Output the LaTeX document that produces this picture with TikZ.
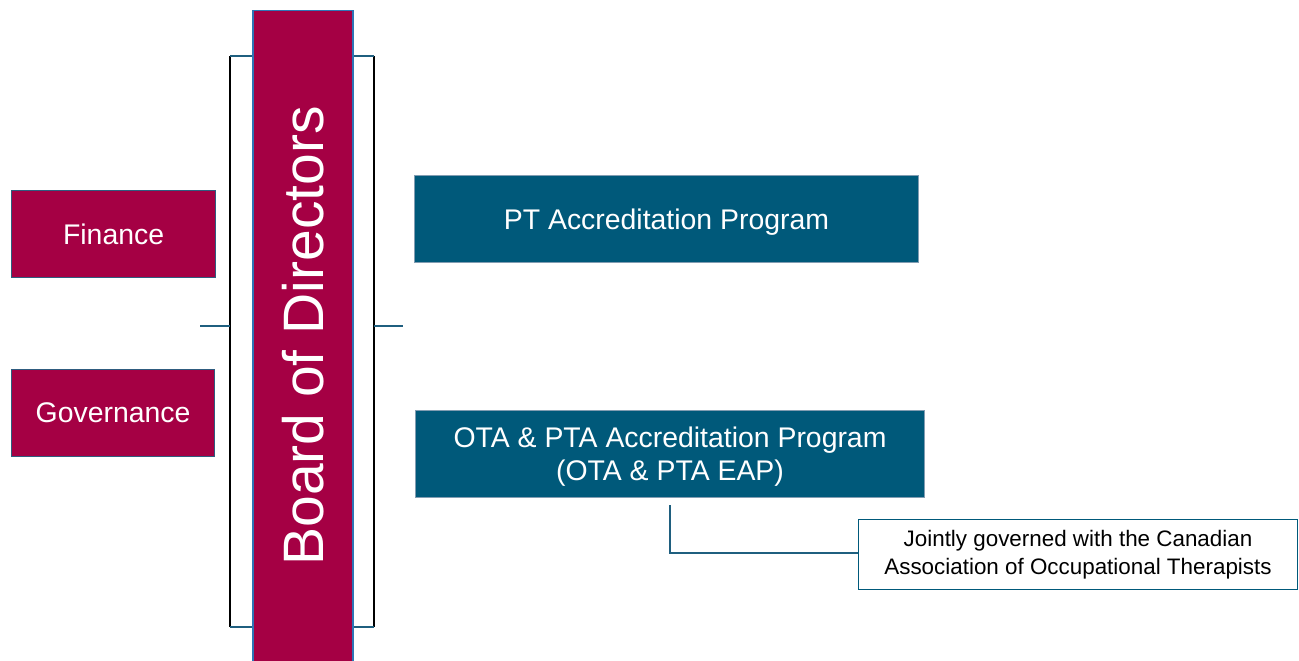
\documentclass[tikz,border=0pt]{standalone}
\usepackage{fontspec}
\setmainfont{Liberation Sans}
\definecolor{crim}{RGB}{165,0,68}
\definecolor{teal1}{RGB}{0,89,122}
\definecolor{edgeblue}{RGB}{46,117,182}
\definecolor{edgegray}{RGB}{47,92,127}
\definecolor{tickc}{RGB}{31,95,127}
\begin{document}
\begin{tikzpicture}[x=1pt,y=-1pt,
  committee/.style={draw=edgegray,line width=1.2pt,fill=crim,text=white,minimum width=204pt,minimum height=87pt,anchor=north west,inner sep=0pt,font=\fontsize{28.4}{33}\selectfont},
  program/.style={draw=edgegray!60,line width=1pt,fill=teal1,text=white,minimum height=87pt,anchor=north west,inner sep=0pt,align=center,text depth=0pt,font=\fontsize{28.4}{33}\selectfont},
  note/.style={draw=teal1,line width=1pt,fill=white,text=black,anchor=north west,minimum width=439pt,minimum height=70pt,inner sep=0pt,align=center,font=\fontsize{22.4}{28}\selectfont},
  brk/.style={line width=1.5pt,black},
  tick/.style={line width=1.5pt,tickc}]
\useasboundingbox (0,0) rectangle (1299,661);
% board
\node[draw=edgeblue,line width=1.5pt,fill=crim,minimum width=100pt,minimum height=660pt,anchor=north west,inner sep=0pt] (board) at (252,10) {};
\node[rotate=90,text=white,font=\fontsize{57}{60}\selectfont,inner sep=0pt] (boardtext) at (303,336) {Board of Directors};
% brackets
\coordinate (lt) at (230,56);
\coordinate (lb) at (230,627);
\coordinate (rt) at (374,56);
\coordinate (rb) at (374,627);
\draw[brk] (lt) -- (lb);
\draw[brk] (rt) -- (rb);
\draw[tick] (lt) -- (board.west |- lt);
\draw[tick] (lb) -- (board.west |- lb);
\draw[tick] (rt) -- (board.east |- rt);
\draw[tick] (rb) -- (board.east |- rb);
\coordinate (lm) at (230,326);
\coordinate (lmend) at (200,326);
\coordinate (rm) at (374,326);
\coordinate (rmend) at (403,326);
\draw[tick] (lmend) -- (lm);
\draw[tick] (rm) -- (rmend);
% committees
\node[committee] (fin) at (11,190) {Finance};
\node[committee,minimum width=203pt] (gov) at (11,369) {Governance};
% programs
\node[program,minimum width=504pt] (pt) at (414,175) {PT Accreditation Program};
\node[program,minimum width=509pt] (ota) at (415,410) {OTA \& PTA Accreditation Program\\(OTA \& PTA EAP)};
% note
\node[note] (nt) at (858,519) {Jointly governed with the Canadian\\Association of Occupational Therapists};
\coordinate (c1) at (670,505);
\draw[line width=1.5pt,tickc] (c1) |- (nt.west |- 0,553);
\end{tikzpicture}
\end{document}
